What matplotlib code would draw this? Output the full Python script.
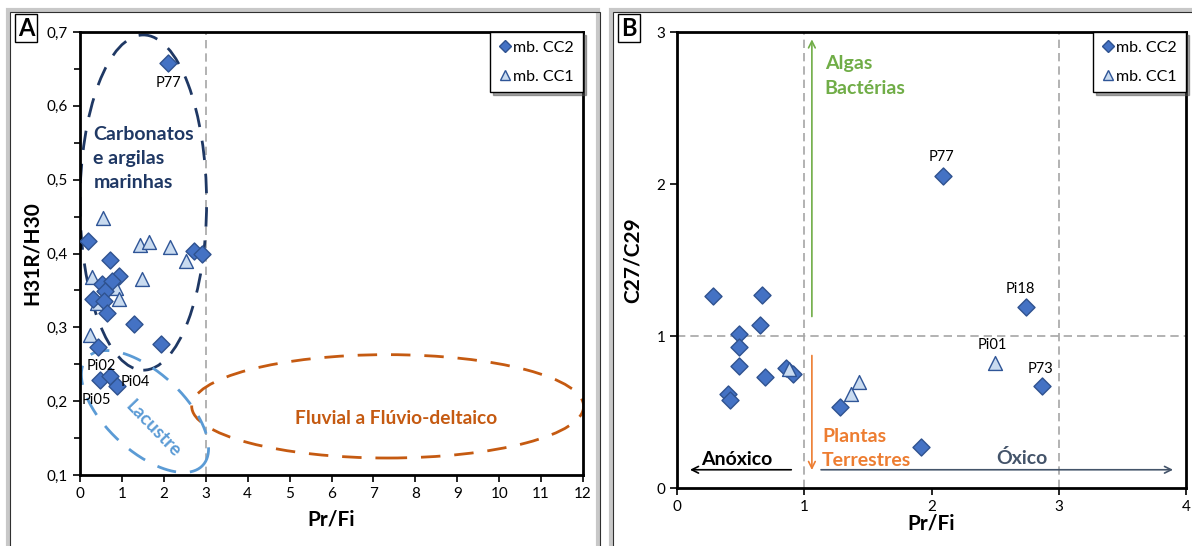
import numpy as np
import matplotlib
matplotlib.use('Agg')
import matplotlib.pyplot as plt
from matplotlib.patches import Ellipse, Rectangle
from matplotlib.lines import Line2D

plt.rcParams['font.family'] = ['Lato', 'DejaVu Sans']

# ---- panel A data (Pr/Fi vs H31R/H30) ----
a_cc2_x = [2.10, 0.20, 0.72, 0.94, 0.52, 0.76, 0.60, 0.32, 0.58, 0.65, 1.30, 1.94, 0.44,
           0.48, 0.72, 0.88, 2.71, 2.91]
a_cc2_y = [0.658, 0.417, 0.391, 0.369, 0.359, 0.363, 0.349, 0.338, 0.335, 0.319, 0.304, 0.277, 0.274,
           0.228, 0.234, 0.221, 0.404, 0.399]
a_cc1_x = [0.56, 1.42, 1.65, 2.15, 2.53, 0.28, 1.49, 0.85, 0.93, 0.40, 0.24]
a_cc1_y = [0.448, 0.411, 0.415, 0.409, 0.390, 0.368, 0.366, 0.353, 0.339, 0.333, 0.289]
a_labels = ['P77', 'Pi02', 'Pi04', 'Pi05']
a_label_x = [2.10, 0.50, 1.32, 0.40]
a_label_y = [0.631, 0.247, 0.226, 0.202]
a_xticks = list(range(0, 13))
a_yticks = [0.1, 0.2, 0.3, 0.4, 0.5, 0.6, 0.7]
a_yticklabels = ['0,1', '0,2', '0,3', '0,4', '0,5', '0,6', '0,7']

# ---- panel B data (Pr/Fi vs C27/C29) ----
b_cc2_x = [0.28, 0.67, 0.65, 0.49, 0.49, 0.49, 0.69, 0.86, 0.91, 0.40, 0.42, 1.28, 1.92,
           2.09, 2.74, 2.87]
b_cc2_y = [1.26, 1.27, 1.07, 1.01, 0.93, 0.80, 0.73, 0.79, 0.75, 0.62, 0.58, 0.53, 0.27,
           2.05, 1.19, 0.67]
b_cc1_x = [0.88, 1.37, 1.43, 2.50]
b_cc1_y = [0.78, 0.62, 0.70, 0.82]
b_labels = ['P77', 'Pi18', 'Pi01', 'P73']
b_label_x = [2.08, 2.70, 2.48, 2.86]
b_label_y = [2.18, 1.31, 0.94, 0.78]
b_xticks = [0, 1, 2, 3, 4]
b_yticks = [0, 1, 2, 3]

DIAM_FC = '#4472C4'
DIAM_EC = '#2F528F'
TRI_FC = '#C9DBF0'
TRI_EC = '#2F5597'

fig = plt.figure(figsize=(11.92, 5.46), dpi=100)

# panel frames
for x0, w in [(10, 590), (613, 590)]:
    fig.patches.append(Rectangle((x0 / 1192 - 0.002, -0.1), w / 1192, 1 - 12 / 546 + 0.1 + 0.004,
                                 transform=fig.transFigure, fill=False, ec='#C8C8C8', lw=3, zorder=0))
    fig.patches.append(Rectangle((x0 / 1192, -0.1), w / 1192, 1 - 12 / 546 + 0.1,
                                 transform=fig.transFigure, fill=False, ec='#303030', lw=0.8, zorder=1))

axA = fig.add_axes([80 / 1192, 1 - 475 / 546, 503 / 1192, 443 / 546])
axB = fig.add_axes([677 / 1192, 1 - 488 / 546, 509 / 1192, 456 / 546])


def style_axes(ax):
    for s in ax.spines.values():
        s.set_linewidth(2)
        s.set_color('black')
    ax.tick_params(direction='out', length=5, width=1.2, labelsize=11, colors='black')
    ax.tick_params(which='minor', direction='out', length=4, width=1.2)


def legend(ax):
    h1 = Line2D([], [], ls='none', marker='D', ms=6.5, mfc=DIAM_FC, mec=DIAM_EC, label='mb. CC2')
    h2 = Line2D([], [], ls='none', marker='^', ms=7.5, mfc=TRI_FC, mec=TRI_EC, label='mb. CC1')
    lg = ax.legend(handles=[h1, h2], loc='upper right', bbox_to_anchor=(1.0, 1.0), fontsize=11.5,
                   frameon=True, fancybox=False, shadow=True, borderaxespad=0, handletextpad=0.1,
                   handlelength=0.8, labelspacing=0.9, borderpad=0.55)
    lg.get_frame().set_edgecolor('black')
    lg.get_frame().set_linewidth(1)


# ---------------- panel A ----------------
style_axes(axA)
axA.set_xlim(0, 12)
axA.set_ylim(0.1, 0.7)
axA.set_xticks(a_xticks)
axA.set_yticks(a_yticks)
axA.set_yticklabels(a_yticklabels)
axA.set_yticks(np.arange(0.15, 0.7, 0.1), minor=True)
axA.axvline(3, color='#A6A6A6', ls=(0, (5, 3)), lw=1.2, zorder=1)

axA.add_patch(Ellipse((1.51, 0.469), 3.02, 0.454, fill=False, ec='#1F3864', lw=2,
                      ls=(0, (7, 5)), zorder=2))
axA.add_patch(Ellipse((7.34, 0.193), 9.35, 0.140, fill=False, ec='#C55A11', lw=2,
                      ls=(0, (7, 5)), zorder=2))
# rotated lacustre ellipse drawn in pixel space
t = np.linspace(0, 2 * np.pi, 300)
th = np.deg2rad(-43)
ea, eb = 79, 39
sx, sy = 503 / 12, 443 / 0.6
ex = 1.55 + (ea * np.cos(t) * np.cos(th) - eb * np.sin(t) * np.sin(th)) / sx
ey = 0.186 + (ea * np.cos(t) * np.sin(th) + eb * np.sin(t) * np.cos(th)) / sy
axA.plot(ex, ey, color='#5B9BD5', lw=2, ls=(0, (7, 5)), zorder=2)

axA.text(0.32, 0.529, 'Carbonatos\ne argilas\nmarinhas', color='#1F3864', fontsize=14,
         fontweight='bold', ha='left', va='center', linespacing=1.5)
axA.text(7.53, 0.177, 'Fluvial a Flúvio-deltaico', color='#C55A11', fontsize=13.8,
         fontweight='bold', ha='center', va='center')
axA.text(1.74, 0.163, 'Lacustre', color='#5B9BD5', fontsize=13.5, fontweight='bold',
         ha='center', va='center', rotation=-46)

axA.scatter(a_cc2_x, a_cc2_y, marker='D', s=75, c=DIAM_FC, edgecolors=DIAM_EC, linewidths=1, zorder=4)
axA.scatter(a_cc1_x, a_cc1_y, marker='^', s=100, c=TRI_FC, edgecolors=TRI_EC, linewidths=1, zorder=3)
for lb, x, y in zip(a_labels, a_label_x, a_label_y):
    axA.text(x, y, lb, fontsize=10.5, ha='center', va='center', zorder=5)

axA.set_xlabel('Pr/Fi', fontsize=15, fontweight='bold', labelpad=6)
axA.set_ylabel('H31R/H30', fontsize=15, fontweight='bold', labelpad=4)
legend(axA)

# ---------------- panel B ----------------
style_axes(axB)
axB.set_xlim(0, 4)
axB.set_ylim(0, 3)
axB.set_xticks(b_xticks)
axB.set_yticks(b_yticks)
for v in [1, 3]:
    axB.axvline(v, color='#A6A6A6', ls=(0, (5, 3)), lw=1.2, zorder=1)
axB.axhline(1, color='#A6A6A6', ls=(0, (5, 3)), lw=1.2, zorder=1)

arr = dict(arrowstyle='->', lw=1.2, mutation_scale=12)
axB.annotate('', xy=(1.06, 2.97), xytext=(1.06, 1.11), arrowprops=dict(arr, color='#70AD47'))
axB.annotate('', xy=(1.06, 0.10), xytext=(1.06, 0.89), arrowprops=dict(arr, color='#ED7D31'))
axB.annotate('', xy=(0.08, 0.12), xytext=(0.92, 0.12), arrowprops=dict(arr, color='black'))
axB.annotate('', xy=(3.92, 0.12), xytext=(1.11, 0.12), arrowprops=dict(arr, color='#44546A'))

axB.text(1.16, 2.71, 'Algas\nBactérias', color='#70AD47', fontsize=14, fontweight='bold',
         ha='left', va='center', linespacing=1.55)
axB.text(1.14, 0.257, 'Plantas\nTerrestres', color='#ED7D31', fontsize=14, fontweight='bold',
         ha='left', va='center', linespacing=1.5)
axB.text(0.47, 0.19, 'Anóxico', color='black', fontsize=14, fontweight='bold', ha='center', va='center')
axB.text(2.71, 0.20, 'Óxico', color='#44546A', fontsize=14, fontweight='bold', ha='center', va='center')

axB.scatter(b_cc2_x, b_cc2_y, marker='D', s=75, c=DIAM_FC, edgecolors=DIAM_EC, linewidths=1, zorder=4)
axB.scatter(b_cc1_x, b_cc1_y, marker='^', s=100, c=TRI_FC, edgecolors=TRI_EC, linewidths=1, zorder=5)
for lb, x, y in zip(b_labels, b_label_x, b_label_y):
    axB.text(x, y, lb, fontsize=10.5, ha='center', va='center', zorder=6)

axB.set_xlabel('Pr/Fi', fontsize=15, fontweight='bold', labelpad=0)
axB.set_ylabel('C27/C29', fontsize=15, fontweight='bold', labelpad=10)
legend(axB)

# panel letters
for x0, lb in [(10, 'A'), (613, 'B')]:
    fig.text((x0 + 16) / 1192, 1 - 28 / 546, lb, fontsize=17, fontweight='bold', ha='center',
             va='center', bbox=dict(boxstyle='square,pad=0.12', fc='white', ec='black', lw=1))

fig.savefig('out.png', dpi=100)
